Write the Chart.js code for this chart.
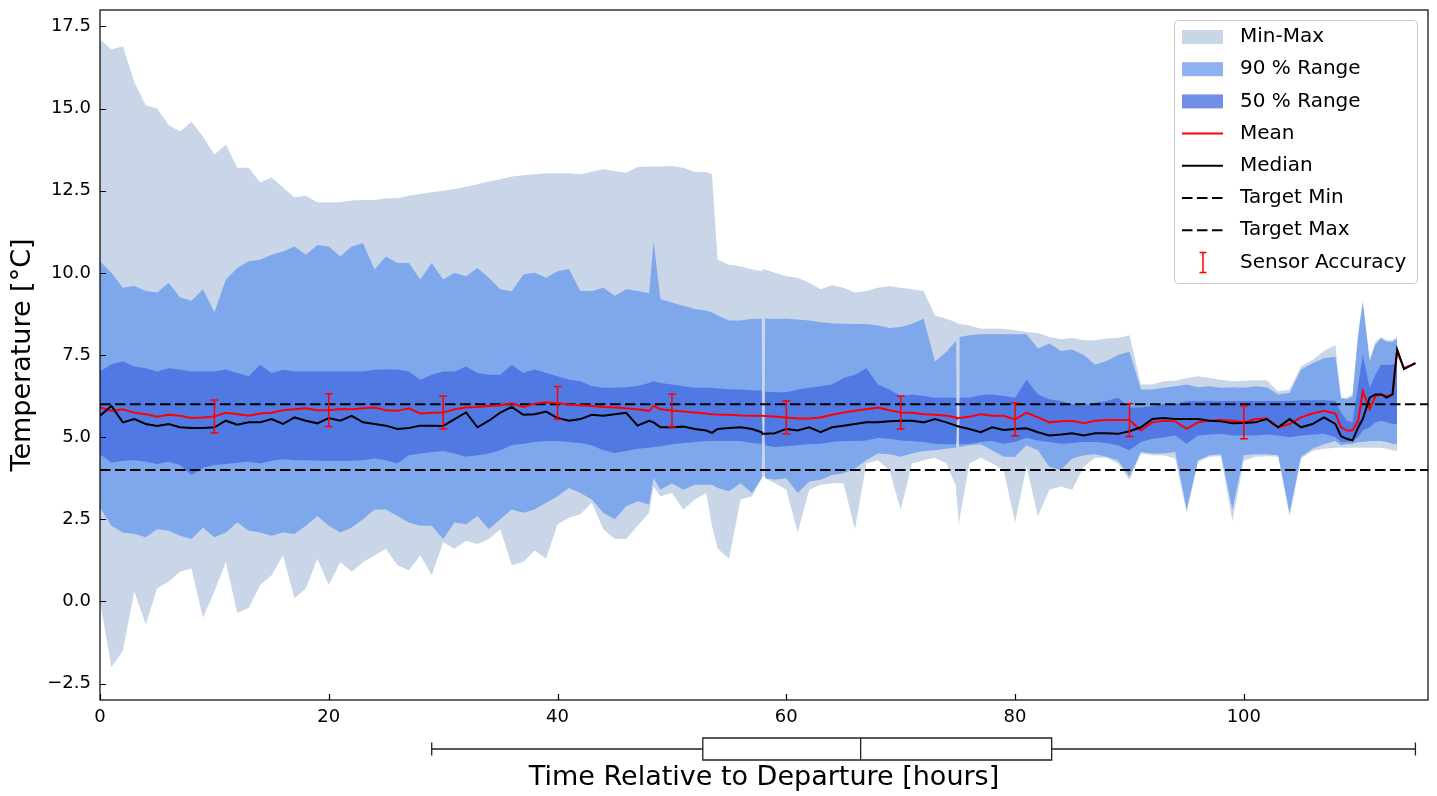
<!DOCTYPE html>
<html>
<head>
<meta charset="utf-8">
<title>Temperature relative to departure</title>
<script src="https://cdn.jsdelivr.net/npm/chart.js@4.4.1/dist/chart.umd.min.js"></script>
<style>
  html, body { margin: 0; padding: 0; background: #fff; }
  canvas { display: block; }
</style>
</head>
<body>
<canvas id="chart" width="1437" height="796"></canvas>
<script>
// time axis shared by every series (hours after departure)
const hours = [
  0, 1, 2, 3, 4, 5, 6, 7, 8, 9,
  10, 11, 12, 13, 14, 15, 16, 17, 18, 19,
  20, 21, 22, 23, 24, 25, 26, 27, 28, 29,
  30, 31, 32, 33, 34, 35, 36, 37, 38, 39,
  40, 41, 42, 43, 44, 45, 46, 47, 48, 48.4, 49,
  50, 51, 52, 53, 53.5, 54, 55, 56, 57, 57.85, 57.9, 58.1, 58.15, 59,
  60, 61, 62, 63, 64, 65, 66, 67, 68, 69,
  70, 71, 72, 73, 74, 74.85, 74.9, 75.1, 75.15, 76, 77, 78, 79,
  80, 81, 82, 83, 84, 85, 86, 87, 88, 89,
  90, 91, 92, 93, 94, 95, 96, 97, 98, 99,
  100, 101, 102, 103, 104, 105, 106, 107, 108,
  108.5, 109, 109.5, 110, 110.4, 111, 111.5, 112, 112.5, 113, 113.4, 114, 115
];

const maxT = [
  17.1, 16.8, 16.9, 15.8, 15.1, 15.0, 14.5, 14.3, 14.6, 14.15,
  13.6, 13.9, 13.2, 13.2, 12.75, 12.9, 12.6, 12.3, 12.35, 12.15,
  12.15, 12.15, 12.2, 12.22, 12.22, 12.27, 12.27, 12.35, 12.4, 12.45,
  12.5, 12.55, 12.62, 12.7, 12.78, 12.85, 12.93, 12.97, 13.0, 13.03,
  13.03, 13.03, 13.0, 13.08, 13.15, 13.1, 13.05, 13.22, 13.24, 13.24, 13.24,
  13.25, 13.2, 13.07, 13.07, 13.0, 10.4, 10.25, 10.2, 10.1, 10.05, 10.1, 10.1, 10.1, 10.0,
  9.9, 9.85, 9.7, 9.5, 9.62, 9.55, 9.4, 9.45, 9.55, 9.6,
  9.55, 9.5, 9.45, 8.7, 8.6, 8.5, 8.45, 8.45, 8.45, 8.4, 8.3, 8.3, 8.3,
  8.25, 8.2, 8.17, 8.05, 7.98, 8.02, 7.95, 7.95, 8.0, 8.02,
  8.1, 6.6, 6.6, 6.7, 6.72, 6.8, 6.85, 6.8, 6.75, 6.7,
  6.72, 6.73, 6.73, 6.4, 6.45, 7.15, 7.35, 7.62, 7.8,
  6.2, 6.2, 6.3, 8.2, 9.15, 7.4, 7.9, 8.05, 7.95, 7.95, 8.05, null, null
];

const minT = [
  0.0, -2.0, -1.5, 0.3, -0.7, 0.4, 0.6, 0.9, 1.0, -0.5,
  0.3, 1.2, -0.35, -0.2, 0.5, 0.8, 1.4, 0.1, 0.4, 1.3,
  0.5, 1.2, 0.9, 1.2, 1.4, 1.6, 1.1, 0.95, 1.4, 0.8,
  1.8, 1.6, 1.85, 1.75, 1.9, 2.2, 1.1, 1.2, 1.55, 1.3,
  2.35, 2.55, 2.65, 3.0, 2.2, 1.9, 1.9, 2.3, 2.7, 3.5, 3.2,
  3.3, 2.8, 3.1, 3.3, 2.3, 1.6, 1.3, 3.1, 3.2, 3.75, 3.8, 3.8, 3.75, 3.6,
  3.4, 2.1, 3.4, 3.55, 3.6, 3.6, 2.2, 4.2, 4.3, 4.0,
  2.8, 4.2, 4.3, 4.37, 4.2, 3.5, 3.2, 2.3, 2.5, 4.2, 4.37, 4.2, 4.0,
  2.4, 4.1, 2.6, 3.4, 3.5, 3.4, 4.1, 4.37, 4.37, 4.2,
  3.7, 4.5, 4.45, 4.45, 4.35, 2.7, 4.25, 4.4, 4.42, 2.45,
  4.28, 4.4, 4.42, 4.4, 2.6, 4.35, 4.58, 4.65, 4.68,
  4.68, 4.68, 4.68, 4.68, 4.68, 4.68, 4.68, 4.68, 4.65, 4.6, 4.58, null, null
];

const p95 = [
  10.35, 10.0, 9.55, 9.6, 9.45, 9.4, 9.7, 9.25, 9.15, 9.5,
  8.8, 9.8, 10.15, 10.35, 10.4, 10.55, 10.65, 10.8, 10.55, 10.85,
  10.8, 10.5, 10.8, 10.9, 10.1, 10.5, 10.3, 10.3, 9.8, 10.3,
  9.8, 10.0, 9.9, 10.15, 9.85, 9.5, 9.44, 9.95, 10.0, 9.85,
  10.05, 10.12, 9.45, 9.45, 9.55, 9.3, 9.5, 9.45, 9.38, 10.96, 9.2,
  9.1, 9.0, 8.9, 8.85, 8.8, 8.7, 8.55, 8.55, 8.6, 8.6, 5.1, 5.1, 8.6, 8.6,
  8.6, 8.58, 8.55, 8.5, 8.47, 8.45, 8.44, 8.44, 8.4, 8.32,
  8.35, 8.45, 8.6, 7.3, 7.6, 7.93, 5.34, 5.34, 8.05, 8.1, 8.13, 8.13, 8.13,
  8.13, 8.13, 7.7, 7.85, 7.62, 7.67, 7.5, 7.2, 7.32, 7.5,
  7.6, 6.45, 6.45, 6.5, 6.55, 6.6, 6.52, 6.55, 6.5, 6.52,
  6.5, 6.55, 6.52, 6.3, 6.34, 7.05, 7.25, 7.4, 7.45,
  6.18, 6.15, 6.24, 8.1, 9.1, 7.3, 7.82, 8.0, 7.9, 7.9, 8.0, null, null
];

const p5 = [
  2.85, 2.3, 2.1, 2.05, 1.95, 2.2, 2.15, 2.0, 1.9, 2.25,
  1.95, 2.1, 2.4, 2.15, 2.1, 2.0, 2.1, 2.05, 2.3, 2.6,
  2.3, 2.1, 2.25, 2.5, 2.8, 2.8, 2.6, 2.4, 2.3, 2.3,
  1.9, 2.4, 2.35, 2.6, 2.2, 2.5, 2.8, 2.7, 2.8, 3.0,
  3.2, 3.45, 3.3, 3.1, 2.7, 2.5, 2.9, 3.05, 2.95, 3.75, 3.4,
  3.6, 3.4, 3.55, 3.55, 3.55, 3.45, 3.35, 3.6, 3.3, 3.75, 5.1, 5.1, 3.75, 3.7,
  3.75, 3.3, 3.65, 3.7, 3.85, 3.9, 4.05, 4.3, 4.5, 4.48,
  4.4, 4.5, 4.58, 4.6, 4.65, 4.68, 5.34, 5.34, 4.7, 4.75, 4.78, 4.6, 4.4,
  4.4, 4.75, 4.6, 4.1, 4.0, 4.35, 4.45, 4.48, 4.4, 4.3,
  3.8, 4.55, 4.5, 4.5, 4.55, 2.8, 4.3, 4.45, 4.48, 2.8,
  4.45, 4.48, 4.48, 4.45, 2.7, 4.4, 4.65, 4.78, 4.88,
  4.75, 4.78, 4.8, 4.85, 4.85, 4.88, 4.88, 4.88, 4.85, 4.8, 4.78, null, null
];

const p75 = [
  7.0, 7.22, 7.3, 7.15, 7.1, 7.0, 7.1, 7.05, 7.0, 7.0,
  7.0, 7.06, 6.95, 6.85, 7.2, 6.95, 7.05, 7.0, 7.0, 7.0,
  7.0, 7.0, 7.0, 7.0, 7.05, 7.06, 7.06, 7.0, 6.75, 6.9,
  7.0, 7.0, 7.15, 6.95, 6.9, 6.9, 7.2, 6.95, 7.06, 6.95,
  6.85, 6.75, 6.7, 6.55, 6.5, 6.5, 6.52, 6.56, 6.65, 6.7, 6.65,
  6.6, 6.55, 6.5, 6.5, 6.5, 6.48, 6.46, 6.45, 6.43, 6.42, 5.1, 5.1, 6.38, 6.37,
  6.37, 6.45, 6.5, 6.55, 6.6, 6.8, 6.9, 7.1, 6.6, 6.45,
  6.25, 6.3, 6.25, 6.2, 6.2, 6.2, 5.34, 5.34, 6.2, 6.2, 6.28, 6.3, 6.25,
  6.2, 6.75, 6.3, 6.15, 6.1, 6.0, 5.95, 6.05, 6.1, 6.2,
  5.9, 5.9, 5.95, 6.0, 6.0, 6.1, 6.1, 6.1, 6.1, 6.1,
  6.1, 6.1, 6.1, 6.1, 6.1, 6.12, 6.12, 6.12, 6.1,
  5.75, 5.5, 5.45, 6.6, 7.5, 6.5, 6.9, 7.2, 7.2, 7.2, 7.25, null, null
];

const p25 = [
  4.48, 4.22, 4.28, 4.3, 4.25, 4.18, 4.25, 4.15, 3.85, 4.07,
  4.15, 4.18, 4.22, 4.25, 4.2, 4.28, 4.33, 4.3, 4.3, 4.28,
  4.28, 4.28, 4.28, 4.3, 4.35, 4.3, 4.2, 4.45, 4.5, 4.55,
  4.58, 4.5, 4.4, 4.45, 4.5, 4.6, 4.75, 4.8, 4.85, 4.88,
  4.88, 4.85, 4.82, 4.75, 4.6, 4.52, 4.58, 4.65, 4.68, 4.7, 4.72,
  4.78, 4.82, 4.85, 4.88, 4.88, 4.88, 4.88, 4.88, 4.82, 4.8, 5.1, 5.1, 4.75, 4.7,
  4.72, 4.75, 4.78, 4.8, 4.85, 4.88, 4.88, 4.9, 4.98, 4.95,
  4.9, 4.88, 4.85, 4.8, 4.78, 4.78, 5.34, 5.34, 4.78, 4.8, 4.85, 4.88, 4.8,
  4.85, 4.98, 4.9, 4.85, 4.8, 4.82, 4.85, 4.85, 4.82, 4.75,
  4.6, 4.85, 4.95, 5.0, 5.05, 4.8, 5.05, 5.08, 5.1, 5.05,
  5.05, 5.05, 5.08, 5.05, 5.0, 5.05, 5.08, 5.1, 5.0,
  4.85, 4.85, 4.88, 5.0, 5.2, 5.3, 5.45, 5.5, 5.45, 5.4, 5.4, null, null
];

const meanT = [
  5.9, 5.8, 5.85, 5.74, 5.7, 5.62, 5.68, 5.65, 5.58, 5.6,
  5.63, 5.74, 5.7, 5.65, 5.72, 5.74, 5.82, 5.85, 5.88, 5.82,
  5.82, 5.86, 5.85, 5.88, 5.9, 5.82, 5.8, 5.88, 5.72, 5.74,
  5.75, 5.85, 5.9, 5.92, 5.95, 5.97, 6.03, 5.92, 6.02, 6.06,
  6.04, 5.99, 5.97, 5.95, 5.92, 5.9, 5.88, 5.85, 5.8, 5.95, 5.85,
  5.81, 5.78, 5.75, 5.72, 5.7, 5.69, 5.68, 5.66, 5.65, 5.65, 5.65, 5.64, 5.64, 5.63,
  5.6, 5.57, 5.57, 5.6, 5.68, 5.75, 5.8, 5.85, 5.9, 5.82,
  5.75, 5.74, 5.7, 5.68, 5.65, 5.6, 5.58, 5.58, 5.58, 5.62, 5.7, 5.65, 5.65,
  5.54, 5.75, 5.6, 5.45, 5.48, 5.5, 5.42, 5.5, 5.52, 5.52,
  5.52, 5.2, 5.45, 5.5, 5.48, 5.25, 5.45, 5.5, 5.52, 5.5,
  5.45, 5.55, 5.57, 5.3, 5.4, 5.6, 5.72, 5.8, 5.72,
  5.3, 5.2, 5.2, 5.5, 6.4, 5.85, 6.25, 6.3, 6.25, 6.3, 7.6, 7.1, 7.25
];

const medianT = [
  5.65, 5.95, 5.45, 5.55, 5.4, 5.34, 5.4, 5.3, 5.28, 5.28,
  5.3, 5.5, 5.38, 5.45, 5.45, 5.55, 5.4, 5.6, 5.5, 5.42,
  5.58, 5.5, 5.65, 5.45, 5.4, 5.35, 5.25, 5.28, 5.35, 5.35,
  5.34, 5.55, 5.75, 5.3, 5.5, 5.75, 5.92, 5.68, 5.7, 5.78,
  5.58, 5.5, 5.55, 5.68, 5.65, 5.7, 5.74, 5.35, 5.5, 5.45, 5.3,
  5.3, 5.32, 5.25, 5.2, 5.13, 5.25, 5.28, 5.3, 5.25, 5.15, 5.1, 5.1, 5.1, 5.12,
  5.25, 5.2, 5.3, 5.15, 5.3, 5.35, 5.4, 5.45, 5.45, 5.48,
  5.5, 5.5, 5.45, 5.55, 5.45, 5.35, 5.34, 5.33, 5.32, 5.25, 5.15, 5.3, 5.22,
  5.25, 5.27, 5.15, 5.05, 5.08, 5.12, 5.05, 5.12, 5.12, 5.1,
  5.18, 5.3, 5.55, 5.58, 5.55, 5.55, 5.55, 5.5, 5.48, 5.42,
  5.43, 5.45, 5.55, 5.3, 5.55, 5.3, 5.4, 5.6, 5.4,
  5.03, 4.95, 4.9, 5.3, 5.55, 6.2, 6.3, 6.3, 6.2, 6.3, 7.67, 7.07, 7.25
];

const targetMin = 4;
const targetMax = 6;
const sensorAccuracy = 0.5;
const accuracyHours = [10, 20, 30, 40, 50, 60, 70, 80, 90, 100];

// departure time spread: whisker low, q1, median, q3, whisker high
const departureBox = [29.0, 52.7, 66.5, 83.2, 115.0];

const xMin = 0;
const xMax = 116.1;
const yMin = -3;
const yMax = 18;
const yTicks = [-2.5, 0, 2.5, 5, 7.5, 10, 12.5, 15, 17.5];

const minMaxFill = 'rgba(176, 196, 222, 0.7)';
const range90Fill = 'rgba(100, 149, 237, 0.72)';
const range50Fill = 'rgba(65, 105, 225, 0.75)';
const dash = [10.5, 4.5];

[maxT, minT, p95, p5, p75, p25, meanT, medianT].forEach((arr, i) => {
  if (arr.length !== hours.length) throw new Error('series ' + i + ' has ' + arr.length + ' values, expected ' + hours.length);
});

function toPoints(values) {
  return hours.map((h, i) => ({ x: h, y: values[i] })).filter(p => p.y !== null);
}

function accuracyPoints() {
  const pts = [];
  accuracyHours.forEach(h => {
    const m = meanT[hours.indexOf(h)];
    pts.push({ x: h, y: m - sensorAccuracy }, { x: h, y: m + sensorAccuracy }, { x: h, y: null });
  });
  return pts;
}

function band(label, values, color, fillNext) {
  return {
    label: label,
    data: toPoints(values),
    borderWidth: 0,
    borderColor: 'transparent',
    backgroundColor: color,
    pointRadius: 0,
    fill: fillNext ? '+1' : false
  };
}

const legendEntries = [
  { text: 'Min-Max', kind: 'patch', color: minMaxFill },
  { text: '90 % Range', kind: 'patch', color: range90Fill },
  { text: '50 % Range', kind: 'patch', color: range50Fill },
  { text: 'Mean', kind: 'line', color: '#ff0000' },
  { text: 'Median', kind: 'line', color: '#000000' },
  { text: 'Target Min', kind: 'dash', color: '#000000' },
  { text: 'Target Max', kind: 'dash', color: '#000000' },
  { text: 'Sensor Accuracy', kind: 'errorbar', color: '#ff0000' }
];

const frameAndTicks = {
  id: 'frameAndTicks',
  afterDraw(chart) {
    const { ctx, chartArea: a, scales } = chart;
    ctx.save();
    ctx.strokeStyle = '#000';
    ctx.lineWidth = 1.2;
    ctx.beginPath();
    scales.x.ticks.forEach(t => {
      const px = Math.round(scales.x.getPixelForValue(t.value)) + 0.5;
      ctx.moveTo(px, a.bottom);
      ctx.lineTo(px, a.bottom - 6);
    });
    scales.y.ticks.forEach(t => {
      const py = Math.round(scales.y.getPixelForValue(t.value)) + 0.5;
      ctx.moveTo(a.left, py);
      ctx.lineTo(a.left + 6, py);
    });
    ctx.stroke();
    ctx.strokeRect(a.left, a.top, a.right - a.left, a.bottom - a.top);
    ctx.restore();
  }
};

const departureBoxPlot = {
  id: 'departureBoxPlot',
  afterDraw(chart) {
    const { ctx, chartArea: a, scales } = chart;
    const px = departureBox.map(v => scales.x.getPixelForValue(v));
    const mid = a.bottom + 49;
    const top = a.bottom + 38;
    const bottom = a.bottom + 60;
    ctx.save();
    ctx.strokeStyle = '#222';
    ctx.lineWidth = 1.3;
    ctx.beginPath();
    ctx.moveTo(px[0], mid); ctx.lineTo(px[1], mid);
    ctx.moveTo(px[3], mid); ctx.lineTo(px[4], mid);
    ctx.moveTo(px[0], mid - 6.5); ctx.lineTo(px[0], mid + 6.5);
    ctx.moveTo(px[4], mid - 6.5); ctx.lineTo(px[4], mid + 6.5);
    ctx.moveTo(px[2], top); ctx.lineTo(px[2], bottom);
    ctx.rect(px[1], top, px[3] - px[1], bottom - top);
    ctx.stroke();
    ctx.restore();
  }
};

const insideLegend = {
  id: 'insideLegend',
  afterDraw(chart) {
    const { ctx, chartArea: a } = chart;
    const left = a.right - 254;
    const top = a.top + 10;
    const w = 243;
    const h = 263;
    ctx.save();
    ctx.beginPath();
    ctx.roundRect(left + 0.5, top + 0.5, w, h, 4);
    ctx.fillStyle = 'rgba(255,255,255,0.8)';
    ctx.fill();
    ctx.strokeStyle = '#cccccc';
    ctx.lineWidth = 1;
    ctx.stroke();

    ctx.font = "20px 'DejaVu Sans'";
    ctx.textBaseline = 'middle';
    const hx = left + 8;
    legendEntries.forEach((e, i) => {
      const y = top + 17 + i * 32.2;
      if (e.kind === 'patch') {
        ctx.fillStyle = e.color;
        ctx.fillRect(hx, y - 7, 41, 14);
      } else if (e.kind === 'line' || e.kind === 'dash') {
        ctx.strokeStyle = e.color;
        ctx.lineWidth = 2;
        ctx.setLineDash(e.kind === 'dash' ? dash : []);
        ctx.beginPath();
        ctx.moveTo(hx, y);
        ctx.lineTo(hx + 41, y);
        ctx.stroke();
        ctx.setLineDash([]);
      } else {
        const cx = hx + 21;
        ctx.strokeStyle = e.color;
        ctx.lineWidth = 1.5;
        ctx.beginPath();
        ctx.moveTo(cx, y - 10); ctx.lineTo(cx, y + 10);
        ctx.moveTo(cx - 3.5, y - 10); ctx.lineTo(cx + 3.5, y - 10);
        ctx.moveTo(cx - 3.5, y + 10); ctx.lineTo(cx + 3.5, y + 10);
        ctx.stroke();
      }
      ctx.fillStyle = '#000';
      ctx.fillText(e.text, left + 66, y);
    });
    ctx.restore();
  }
};

Chart.defaults.font.family = "'DejaVu Sans', sans-serif";
Chart.defaults.color = '#000';

new Chart(document.getElementById('chart'), {
  type: 'line',
  data: {
    datasets: [
      {
        label: 'Sensor Accuracy',
        data: accuracyPoints(),
        borderColor: '#ff0000',
        borderWidth: 1.5,
        pointStyle: 'line',
        pointRadius: 4,
        pointBorderWidth: 1.5,
        pointBorderColor: '#ff0000',
        spanGaps: false,
        fill: false
      },
      { label: 'Median', data: toPoints(medianT), borderColor: '#000', borderWidth: 2, pointRadius: 0, fill: false },
      { label: 'Mean', data: toPoints(meanT), borderColor: '#ff0000', borderWidth: 2, pointRadius: 0, fill: false },
      {
        label: 'Target Min',
        data: [{ x: xMin, y: targetMin }, { x: xMax, y: targetMin }],
        borderColor: '#000', borderWidth: 2, borderDash: dash, pointRadius: 0, fill: false
      },
      {
        label: 'Target Max',
        data: [{ x: xMin, y: targetMax }, { x: xMax, y: targetMax }],
        borderColor: '#000', borderWidth: 2, borderDash: dash, pointRadius: 0, fill: false
      },
      band('50 % Range', p75, range50Fill, true),
      band('p25', p25, range50Fill, false),
      band('90 % Range', p95, range90Fill, true),
      band('p5', p5, range90Fill, false),
      band('Min-Max', maxT, minMaxFill, true),
      band('min', minT, minMaxFill, false)
    ]
  },
  options: {
    responsive: false,
    animation: false,
    devicePixelRatio: 1,
    layout: { padding: { top: 0, right: 9, left: 0, bottom: 0 } },
    plugins: {
      legend: { display: false },
      tooltip: { enabled: false },
      filler: { propagate: false }
    },
    scales: {
      x: {
        type: 'linear',
        min: xMin,
        max: xMax,
        grid: { display: false, drawTicks: false },
        border: { display: false },
        ticks: { stepSize: 20, includeBounds: false, padding: 7, font: { size: 18 }, callback: v => String(v) },
        title: { display: true, text: 'Time Relative to Departure [hours]', font: { size: 27 }, padding: { top: 0, bottom: 2 } },
        afterFit: s => { s.height = 96; }
      },
      y: {
        type: 'linear',
        min: yMin,
        max: yMax,
        grid: { display: false, drawTicks: false },
        border: { display: false },
        afterBuildTicks: s => { s.ticks = yTicks.map(v => ({ value: v })); },
        ticks: { padding: 9, font: { size: 18 }, callback: v => v.toFixed(1).replace('-', '\u2212') },
        title: { display: true, text: 'Temperature [°C]', font: { size: 27 }, padding: { top: 7, bottom: 0 } },
        afterFit: s => { s.width = 100; s.paddingTop = 10; s.paddingBottom = 0; }
      }
    }
  },
  plugins: [frameAndTicks, departureBoxPlot, insideLegend]
});
</script>
</body>
</html>
